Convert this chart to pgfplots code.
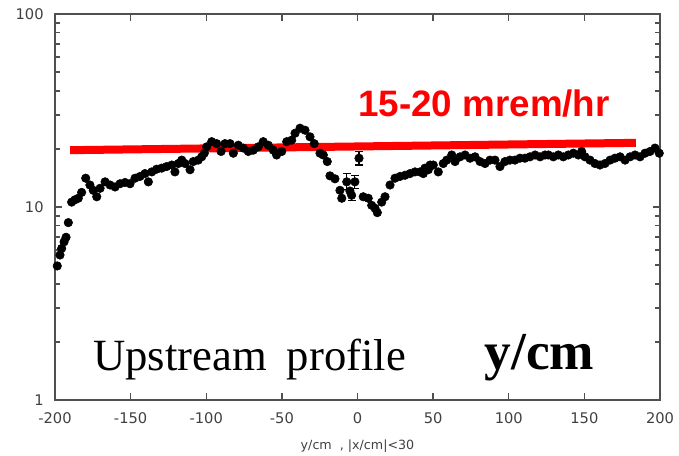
\documentclass[border=0pt]{standalone}
\usepackage{pgfplots}
\pgfplotsset{compat=1.18}
\usepackage{fontspec}
\setmainfont{Liberation Serif}
\newfontfamily\ticksfont{DejaVu Sans}
\newfontfamily\arialfont{Liberation Sans}
\definecolor{axisgray}{HTML}{505050}
\definecolor{textgray}{HTML}{404040}

% dose-rate profile along y, |x| < 30 cm
\pgfplotstableread{
x y
-198.5 4.95
-196.7 5.64
-195.6 6.1
-194.0 6.6
-192.7 6.97
-191.2 8.3
-189.0 10.6
-186.8 10.9
-184.6 11.1
-182.4 11.9
-179.7 14.1
-176.9 13.0
-174.7 12.2
-172.4 11.3
-170.2 12.5
-166.9 13.5
-163.6 13.0
-160.3 12.7
-157.0 13.2
-153.7 13.4
-150.4 13.2
-147.1 14.1
-143.8 14.4
-140.5 14.9
-138.3 13.5
-136.0 15.2
-132.8 15.7
-129.5 15.9
-126.2 16.2
-122.8 16.5
-120.7 15.2
-118.5 16.8
-116.2 17.5
-114.0 16.8
-110.7 15.6
-108.6 17.2
-105.3 17.5
-103.0 18.2
-101.3 19.0
-99.7 20.5
-96.4 21.8
-93.1 21.3
-90.2 19.4
-87.6 21.3
-84.3 21.3
-82.1 19.0
-78.8 20.9
-75.5 20.2
-72.2 19.4
-68.9 19.7
-65.6 20.5
-62.3 21.8
-59.0 20.9
-55.7 19.7
-53.5 18.6
-50.1 19.4
-46.8 21.8
-43.5 22.2
-41.3 24.1
-38.0 25.6
-34.7 25.0
-31.4 23.1
-28.6 21.3
-24.8 19.0
-22.6 18.6
-20.0 17.2
-18.2 14.5
-14.9 14.0
-11.6 12.2
-10.4 11.1
-5.0 12.1
3.8 11.3
7.1 11.1
9.4 10.2
11.6 9.85
13.1 9.35
16.0 10.6
18.2 11.3
21.5 13.0
24.8 14.1
28.1 14.4
31.4 14.6
34.7 14.9
38.0 15.2
41.3 15.2
43.5 14.9
44.6 15.9
46.8 15.6
48.0 16.5
50.1 16.5
53.4 15.2
56.7 16.8
59.0 17.5
62.3 18.6
64.5 17.2
67.8 18.2
71.1 18.6
74.4 17.9
77.7 18.2
81.0 17.2
84.3 16.8
87.6 17.5
90.9 17.5
94.2 16.2
97.5 17.2
100.8 17.5
104.1 17.5
107.4 17.9
110.7 17.9
114.0 18.2
117.4 18.6
120.7 18.2
124.0 18.6
126.2 18.6
129.5 18.2
132.8 18.6
136.1 18.2
139.4 18.6
142.7 19.0
146.0 18.6
148.2 19.4
150.4 18.2
153.7 17.5
157.0 16.8
160.3 16.5
163.6 16.8
167.0 17.5
170.2 17.9
173.6 18.2
176.9 17.5
180.2 18.2
183.5 18.6
186.8 18.2
190.1 19.0
193.4 19.4
196.7 20.2
199.5 19.0
}\profile

% points with visible statistical errors
\pgfplotstableread{
x y ep em
-7.1 13.5 1.4 1.2
-3.9 11.5 1.0 0.7
-1.7 13.5 1.1 1.0
1.0 17.9 1.5 1.4
}\errpoints

\begin{document}
\begin{tikzpicture}
\useasboundingbox (-41.25pt,-41.25pt) rectangle (468pt,300pt);
\begin{axis}[
  at={(0,0)}, anchor=south west,
  scale only axis, width=453.75pt, height=289.5pt,
  xmin=-200, xmax=200, ymin=1, ymax=100,
  ymode=log,
  xtick={-200,-150,...,200},
  xticklabels={-200,-150,-100,-50,0,50,100,150,200},
  ytick={1,10,100}, yticklabels={1,10,100},
  minor ytick={2,3,...,9,20,30,...,90},
  tick align=inside,
  major tick length=5.5pt, minor tick length=3.5pt,
  axis line style={axisgray, line width=1.1pt},
  every tick/.style={axisgray, line width=1.1pt},
  tick label style={font=\ticksfont\fontsize{11}{13}\selectfont, text=textgray},
  xticklabel style={yshift=-6pt},
  yticklabel style={xshift=-5pt},
  xlabel={y/cm\ \ , |x/cm|<30},
  xlabel style={font=\ticksfont\fontsize{9.5}{11}\selectfont, text=textgray, yshift=-5pt},
  clip=false,
]
\addplot[only marks, mark=*, mark size=3.2pt, black] table[x=x, y=y] {\profile};
\addplot[only marks, mark=*, mark size=3.2pt, black,
  error bars/.cd, y dir=both, y explicit,
  error bar style={line width=0.8pt},
  error mark options={rotate=90, mark size=3pt, line width=0.8pt}]
  table[x=x, y=y, y error plus=ep, y error minus=em] {\errpoints};
\addplot[red, line width=6pt, no marks] coordinates {(-190,19.7) (184,21.5)};
\node[anchor=base west, inner sep=0pt, text=red,
  font=\arialfont\bfseries\fontsize{27.6}{30}\selectfont]
  at (axis cs:0.3,29.3) {15-20 mrem/hr};
\node[anchor=base west, inner sep=0pt, font=\fontsize{33.5}{36}\selectfont]
  at (axis cs:-174.9,1.43) {Upstream\hspace{0.45em}profile};
\node[anchor=base west, inner sep=0pt, font=\bfseries\fontsize{40}{44}\selectfont]
  at (axis cs:84,1.44) {y/cm};
\end{axis}
\end{tikzpicture}
\end{document}
